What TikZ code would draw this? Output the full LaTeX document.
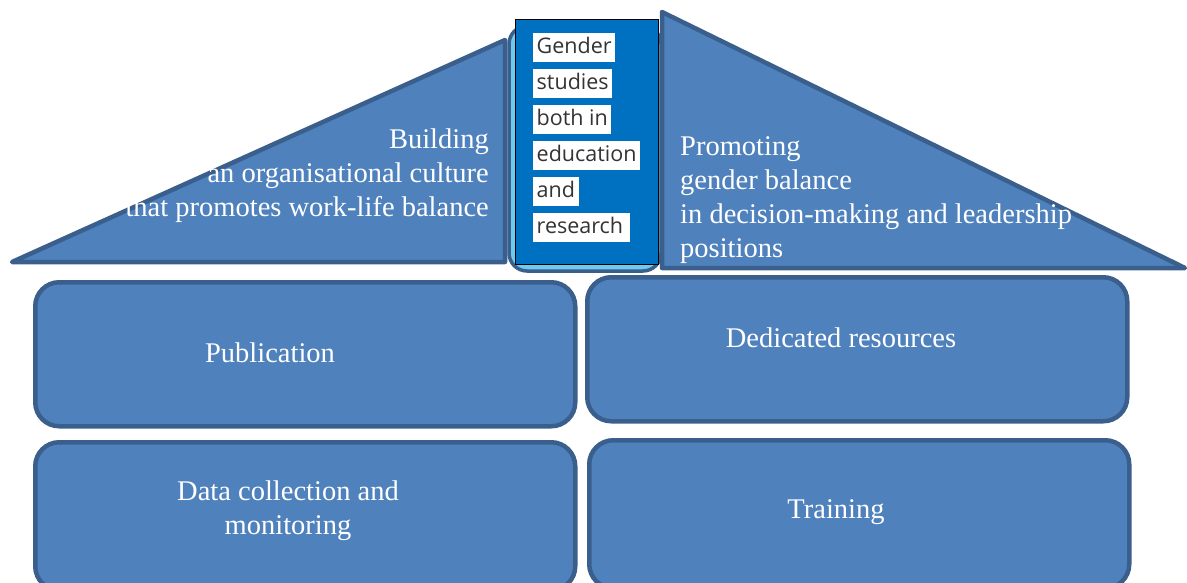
\documentclass[tikz,border=0pt]{standalone}
\usepackage{fontspec}
\setmainfont{Liberation Serif}
\newfontfamily\gsans{Open Sans}
\definecolor{boxfill}{HTML}{4F81BD}
\definecolor{boxline}{HTML}{3B5F8C}
\definecolor{midblue}{HTML}{0070C0}
\definecolor{lightstrip}{HTML}{6CCBF0}
\definecolor{gtext}{HTML}{333333}
\newcommand{\hlb}[1]{\colorbox{white}{\vphantom{Agd}#1}}
\tikzset{
  part/.style={fill=boxfill, draw=boxline, line width=4.5pt, line join=round},
  pillar/.style={part, rounded corners=24pt},
  lab/.style={text=white, font=\fontsize{28.5}{34}\selectfont, inner sep=0pt}
}
\begin{document}
\begin{tikzpicture}[x=1pt,y=-1pt]
\useasboundingbox (0,0) rectangle (1187,583);
% left roof
\draw[part] (12,262) coordinate (l1) -- (505,40) coordinate (l2) -- (505,262) coordinate (l3) -- cycle;
% right roof
\draw[part] (662,12) coordinate (r1) -- (662,268) coordinate (r2) -- (1185,268) coordinate (r3) -- cycle;
% middle column
\draw[fill=lightstrip, draw=boxline, line width=3.5pt, rounded corners=18pt] (509,26) rectangle (661,271);
\node[draw=black, fill=midblue, line width=1pt, minimum width=143pt, minimum height=245pt, inner sep=0pt, anchor=north west] (mid) at (515,19) {};
% pillars
\node[pillar, minimum width=540pt, minimum height=144pt, anchor=north west] (pub) at (33,280) {};
\node[pillar, minimum width=540pt, minimum height=144pt, anchor=north west] (ded) at (585,275) {};
\node[pillar, minimum width=540pt, minimum height=148pt, anchor=north west] (data) at (33,440) {};
\node[pillar, minimum width=540pt, minimum height=148pt, anchor=north west] (train) at (587,438) {};
% texts
\node[lab, align=right, anchor=east] (ltxt) at (489,176) {Building\\an organisational culture\\that promotes work-life balance};
\node[lab, align=left, anchor=west] (rtxt) at (680,200) {Promoting\\gender balance\\in decision-making and leadership\\positions};
\node[lab] (ptxt) at (270,353) {Publication};
\node[lab] (dtxt) at (841,338) {Dedicated resources};
\node[lab, align=center] (dctxt) at (288,511) {Data collection and\\monitoring};
\node[lab] (ttxt) at (836,512) {Training};
\setlength{\fboxsep}{3.5pt}
\node[anchor=north west, inner sep=0pt, align=left, text=gtext, font=\gsans\fontsize{21.5}{36}\selectfont] (gtxt) at (533,33)
  {\hlb{Gender}\\\hlb{studies}\\\hlb{both in}\\\hlb{education}\\\hlb{and}\\\hlb{research\,}};
\end{tikzpicture}
\end{document}
